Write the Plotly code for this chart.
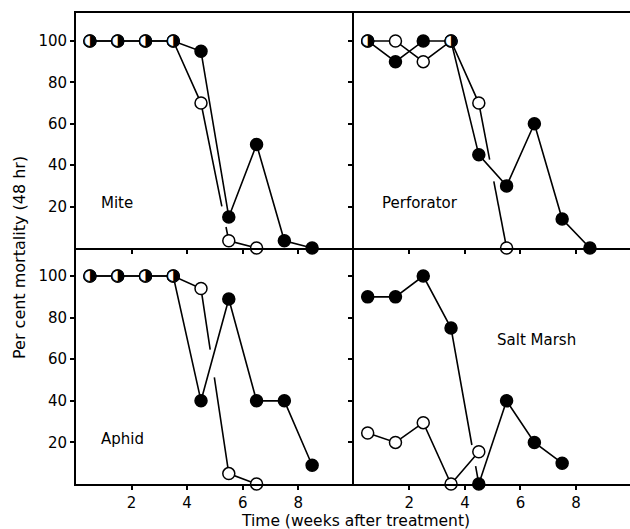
import plotly.graph_objects as go

weeks = [0.5, 1.5, 2.5, 3.5, 4.5, 5.5, 6.5, 7.5, 8.5]

mite_dark = [100, 100, 100, 100, 95, 15, 50, 3.5, 0]
mite_open = [100, 100, 100, 100, 70, 3.5, 0]

perf_dark = [100, 90, 100, 100, 45, 30, 60, 14, 0]
perf_open = [100, 100, 90, 100, 70, 0]

aphid_dark = [100, 100, 100, 100, 40, 89, 40, 40, 9]
aphid_open = [100, 100, 100, 100, 94, 5, 0]

salt_dark = [90, 90, 100, 75, 0, 40, 20, 10]
salt_open = [24.5, 20, 29.5, 0, 15.5]

# pen breaks where one line passes the other: (segment index, start, end fraction)
panels = [
    ("Mite", mite_dark, mite_open, None, (4, 0.75, 0.90), 1.49, 21.7),
    ("Perforator", perf_dark, perf_open, None, (4, 0.39, 0.54), 2.4, 21.7),
    ("Aphid", aphid_dark, aphid_open, None, (4, 0.33, 0.48), 1.69, 21.6),
    ("Salt Marsh", salt_dark, salt_open, (3, 0.75, 0.885), None, 6.58, 69.2),
]

W, H = 630, 529
FONT = "DejaVu Sans"
left_x0, mid_x, right_x1 = 76, 353.8, 630
top_y, mid_y, bot_y = 13, 248, 484
px_per_week = (mid_x - left_x0) / 10.0

xdom = [[left_x0 / W, mid_x / W], [mid_x / W, 1.0]]
ydom = [[(H - mid_y) / H, (H - top_y) / H], [(H - bot_y) / H, (H - mid_y) / H]]
xranges = [[0, 10], [0, (right_x1 - mid_x) / px_per_week]]
YMAX = 113.5


def broken_line(xs, ys, brk):
    if brk is None:
        return list(xs), list(ys)
    k, t0, t1 = brk
    lx = list(xs[:k + 1])
    ly = list(ys[:k + 1])
    for t in (t0, None, t1):
        if t is None:
            lx.append(None)
            ly.append(None)
        else:
            lx.append(xs[k] + t * (xs[k + 1] - xs[k]))
            ly.append(ys[k] + t * (ys[k + 1] - ys[k]))
    lx += list(xs[k + 1:])
    ly += list(ys[k + 1:])
    return lx, ly


fig = go.Figure()
layout = {}
annotations = []
for i, (name, dark, opn, brk_d, brk_o, lx, ly) in enumerate(panels):
    row, col = divmod(i, 2)
    n = i + 1
    xa = "x" if n == 1 else f"x{n}"
    ya = "y" if n == 1 else f"y{n}"
    xd = weeks[:len(dark)]
    xo = weeks[:len(opn)]
    for xs, ys, brk, fill in ((xd, dark, brk_d, "black"), (xo, opn, brk_o, "white")):
        bx, by = broken_line(xs, ys, brk)
        fig.add_trace(go.Scatter(
            x=bx, y=by, mode="lines", xaxis=xa, yaxis=ya,
            line=dict(color="black", width=1.6), connectgaps=False,
            showlegend=False, cliponaxis=False, hoverinfo="skip"))
        fig.add_trace(go.Scatter(
            x=xs, y=ys, mode="markers", xaxis=xa, yaxis=ya,
            marker=dict(symbol="circle", size=12, color=fill,
                        line=dict(color="black", width=1.5)),
            showlegend=False, cliponaxis=False))
    # half-filled markers where both series coincide
    both = [k for k in range(len(opn)) if k < len(dark) and dark[k] == opn[k]]
    if both:
        fig.add_trace(go.Scatter(
            x=[xo[k] for k in both], y=[opn[k] for k in both],
            mode="markers+text", xaxis=xa, yaxis=ya,
            marker=dict(symbol="circle", size=11, color="white",
                        line=dict(width=0)),
            text=["\u25D1"] * len(both), textposition="middle center",
            textfont=dict(family=FONT, size=16, color="black"),
            showlegend=False, cliponaxis=False))
    xkey = "xaxis" if n == 1 else f"xaxis{n}"
    ykey = "yaxis" if n == 1 else f"yaxis{n}"
    layout[xkey] = dict(
        domain=xdom[col], range=xranges[col], anchor=ya,
        tickvals=[2, 4, 6, 8], ticks="outside", ticklen=4, tickwidth=1.5,
        tickcolor="black", showticklabels=(row == 1),
        tickfont=dict(family=FONT, size=15, color="black"),
        showline=True, linecolor="black", linewidth=1.8,
        mirror=(row == 0), showgrid=False, zeroline=False, fixedrange=True)
    layout[ykey] = dict(
        domain=ydom[row], range=[0, YMAX], anchor=xa,
        tickvals=[20, 40, 60, 80, 100], ticks="outside", ticklen=4,
        tickwidth=1.5, tickcolor="black", showticklabels=(col == 0),
        tickfont=dict(family=FONT, size=15, color="black"),
        showline=True, linecolor="black", linewidth=1.8,
        mirror=False, showgrid=False, zeroline=False, fixedrange=True)
    annotations.append(dict(
        text=name, x=lx, y=ly, xref=xa, yref=ya, showarrow=False,
        font=dict(family=FONT, size=15, color="black")))

annotations.append(dict(
    text="Per cent mortality (48 hr)", x=19 / W, y=(H - 258) / H,
    xref="paper", yref="paper", showarrow=False, textangle=-90,
    xanchor="center", yanchor="middle",
    font=dict(family=FONT, size=16, color="black")))
annotations.append(dict(
    text="Time (weeks after treatment)", x=355 / W, y=(H - 521) / H,
    xref="paper", yref="paper", showarrow=False,
    xanchor="center", yanchor="middle",
    font=dict(family=FONT, size=15.5, color="black")))

fig.update_layout(
    width=W, height=H, margin=dict(l=0, r=0, t=0, b=0),
    plot_bgcolor="white", paper_bgcolor="white",
    annotations=annotations, **layout)

fig.write_html("out.html")
